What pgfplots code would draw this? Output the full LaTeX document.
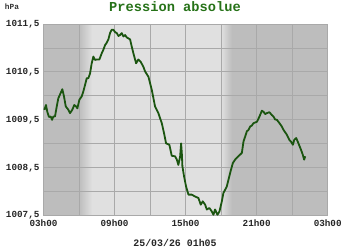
\documentclass[border=0pt]{standalone}
\usepackage{pgfplots}
\pgfplotsset{compat=1.18}
\usepackage{fontspec}
\setmonofont{Liberation Mono}
\definecolor{night}{HTML}{BDBDBD}
\definecolor{day}{HTML}{E0E0E0}
\definecolor{gridc}{HTML}{A9A9A9}
\definecolor{linec}{HTML}{1B5510}
\definecolor{titlec}{HTML}{267218}
\begin{document}
\begin{tikzpicture}
\begin{axis}[
  set layers,
  scale only axis,
  width=284.2pt, height=191.7pt,
  xmin=0, xmax=24, ymin=1007.5, ymax=1011.5,
  xtick={0,3,...,24},
  xticklabels={03h00,,09h00,,15h00,,21h00,,03h00},
  ytick={1007.5,1008,...,1011.5},
  yticklabels={{1007,5},,{1008,5},,{1009,5},,{1010,5},,{1011,5}},
  major tick length=0pt,
  grid=major,
  major grid style={gridc, line width=0.9pt},
  axis line style={gridc, line width=0.9pt},
  tick label style={font=\ttfamily\bfseries\fontsize{9.3}{10}\selectfont, text=black!85},
  yticklabel style={xshift=-0.5pt},
  xticklabel style={yshift=-0.5pt},
]
\begin{pgfonlayer}{axis background}
\fill[night] (axis cs:0,1007.5) rectangle (axis cs:3,1011.5);
\shade[left color=night, right color=day] (axis cs:3,1007.5) rectangle (axis cs:4.1,1011.5);
\fill[day] (axis cs:4.1,1007.5) rectangle (axis cs:15,1011.5);
\shade[left color=day, right color=night] (axis cs:15,1007.5) rectangle (axis cs:15.9,1011.5);
\fill[night] (axis cs:15.9,1007.5) rectangle (axis cs:24,1011.5);
\end{pgfonlayer}
\addplot[linec, line width=1.8pt, line join=round] coordinates {
(0.07,1009.71)(0.21,1009.81)(0.32,1009.67)(0.46,1009.56)(0.61,1009.57)(0.72,1009.50)
(0.83,1009.57)(0.97,1009.57)(1.12,1009.78)(1.25,1009.95)(1.45,1010.06)(1.59,1010.14)
(1.73,1009.99)(1.88,1009.78)(2.10,1009.71)(2.24,1009.64)(2.43,1009.71)(2.60,1009.81)
(2.75,1009.78)(2.86,1009.74)(3.03,1009.92)(3.23,1009.99)(3.36,1010.09)(3.51,1010.23)
(3.65,1010.37)(3.79,1010.37)(3.93,1010.47)(4.07,1010.68)(4.21,1010.82)(4.35,1010.75)
(4.50,1010.76)(4.72,1010.76)(4.92,1010.89)(5.05,1010.96)(5.20,1011.06)(5.34,1011.11)
(5.48,1011.18)(5.62,1011.31)(5.76,1011.38)(5.90,1011.38)(6.05,1011.33)(6.19,1011.31)(6.33,1011.25)(6.46,1011.27)
(6.61,1011.31)(6.75,1011.24)(6.89,1011.27)(7.03,1011.22)(7.17,1011.20)(7.31,1011.18)(7.45,1011.03)(7.59,1010.89)
(7.82,1010.68)(8.01,1010.76)(8.21,1010.71)(8.43,1010.61)(8.58,1010.51)(8.86,1010.40)
(9.14,1010.13)(9.42,1009.78)(9.70,1009.64)(9.99,1009.43)(10.18,1009.22)(10.35,1009.01)
(10.63,1008.98)(10.83,1008.75)(11.11,1008.74)(11.26,1008.67)(11.39,1008.56)(11.54,1008.74)
(11.62,1009.01)(11.68,1008.81)(11.73,1008.53)(11.87,1008.32)(12.04,1008.11)(12.24,1007.94)
(12.52,1007.94)(12.80,1007.90)(13.08,1007.87)(13.28,1007.73)(13.45,1007.80)(13.65,1007.73)
(13.79,1007.63)(14.01,1007.66)(14.21,1007.59)(14.35,1007.52)(14.49,1007.63)(14.69,1007.52)
(14.86,1007.59)(15.06,1007.80)(15.19,1007.97)(15.48,1008.11)(15.76,1008.39)(15.99,1008.60)
(16.18,1008.67)(16.46,1008.74)(16.75,1008.81)(16.89,1009.05)(17.03,1009.15)(17.17,1009.26)
(17.31,1009.29)(17.45,1009.36)(17.59,1009.38)(17.73,1009.43)(18.02,1009.46)(18.24,1009.57)
(18.44,1009.69)(18.58,1009.67)(18.72,1009.62)(18.86,1009.64)(19.08,1009.66)(19.28,1009.60)(19.42,1009.57)(19.55,1009.51)
(19.71,1009.50)(19.93,1009.43)(20.13,1009.36)(20.27,1009.29)(20.55,1009.19)(20.77,1009.08)
(20.89,1009.05)(21.06,1008.98)(21.17,1009.08)(21.34,1009.12)(21.53,1009.01)(21.74,1008.88)
(21.90,1008.77)(22.01,1008.67)(22.10,1008.74)
};
\end{axis}
\node[anchor=base, font=\ttfamily\bfseries\fontsize{13.7}{14}\selectfont, text=titlec] at (131.5pt,204.7pt) {Pression absolue};
\node[anchor=base, font=\ttfamily\bfseries\fontsize{7.8}{8}\selectfont, text=black!80] at (-31.5pt,206.7pt) {hPa};
\node[anchor=base, font=\ttfamily\bfseries\fontsize{9.9}{10}\selectfont, text=black!85] at (131.5pt,-30.3pt) {25/03/26 01h05};
\pgfresetboundingbox
\path[use as bounding box] (-43.5pt,-34.3pt) rectangle (306.5pt,215.7pt);
\end{tikzpicture}
\end{document}
